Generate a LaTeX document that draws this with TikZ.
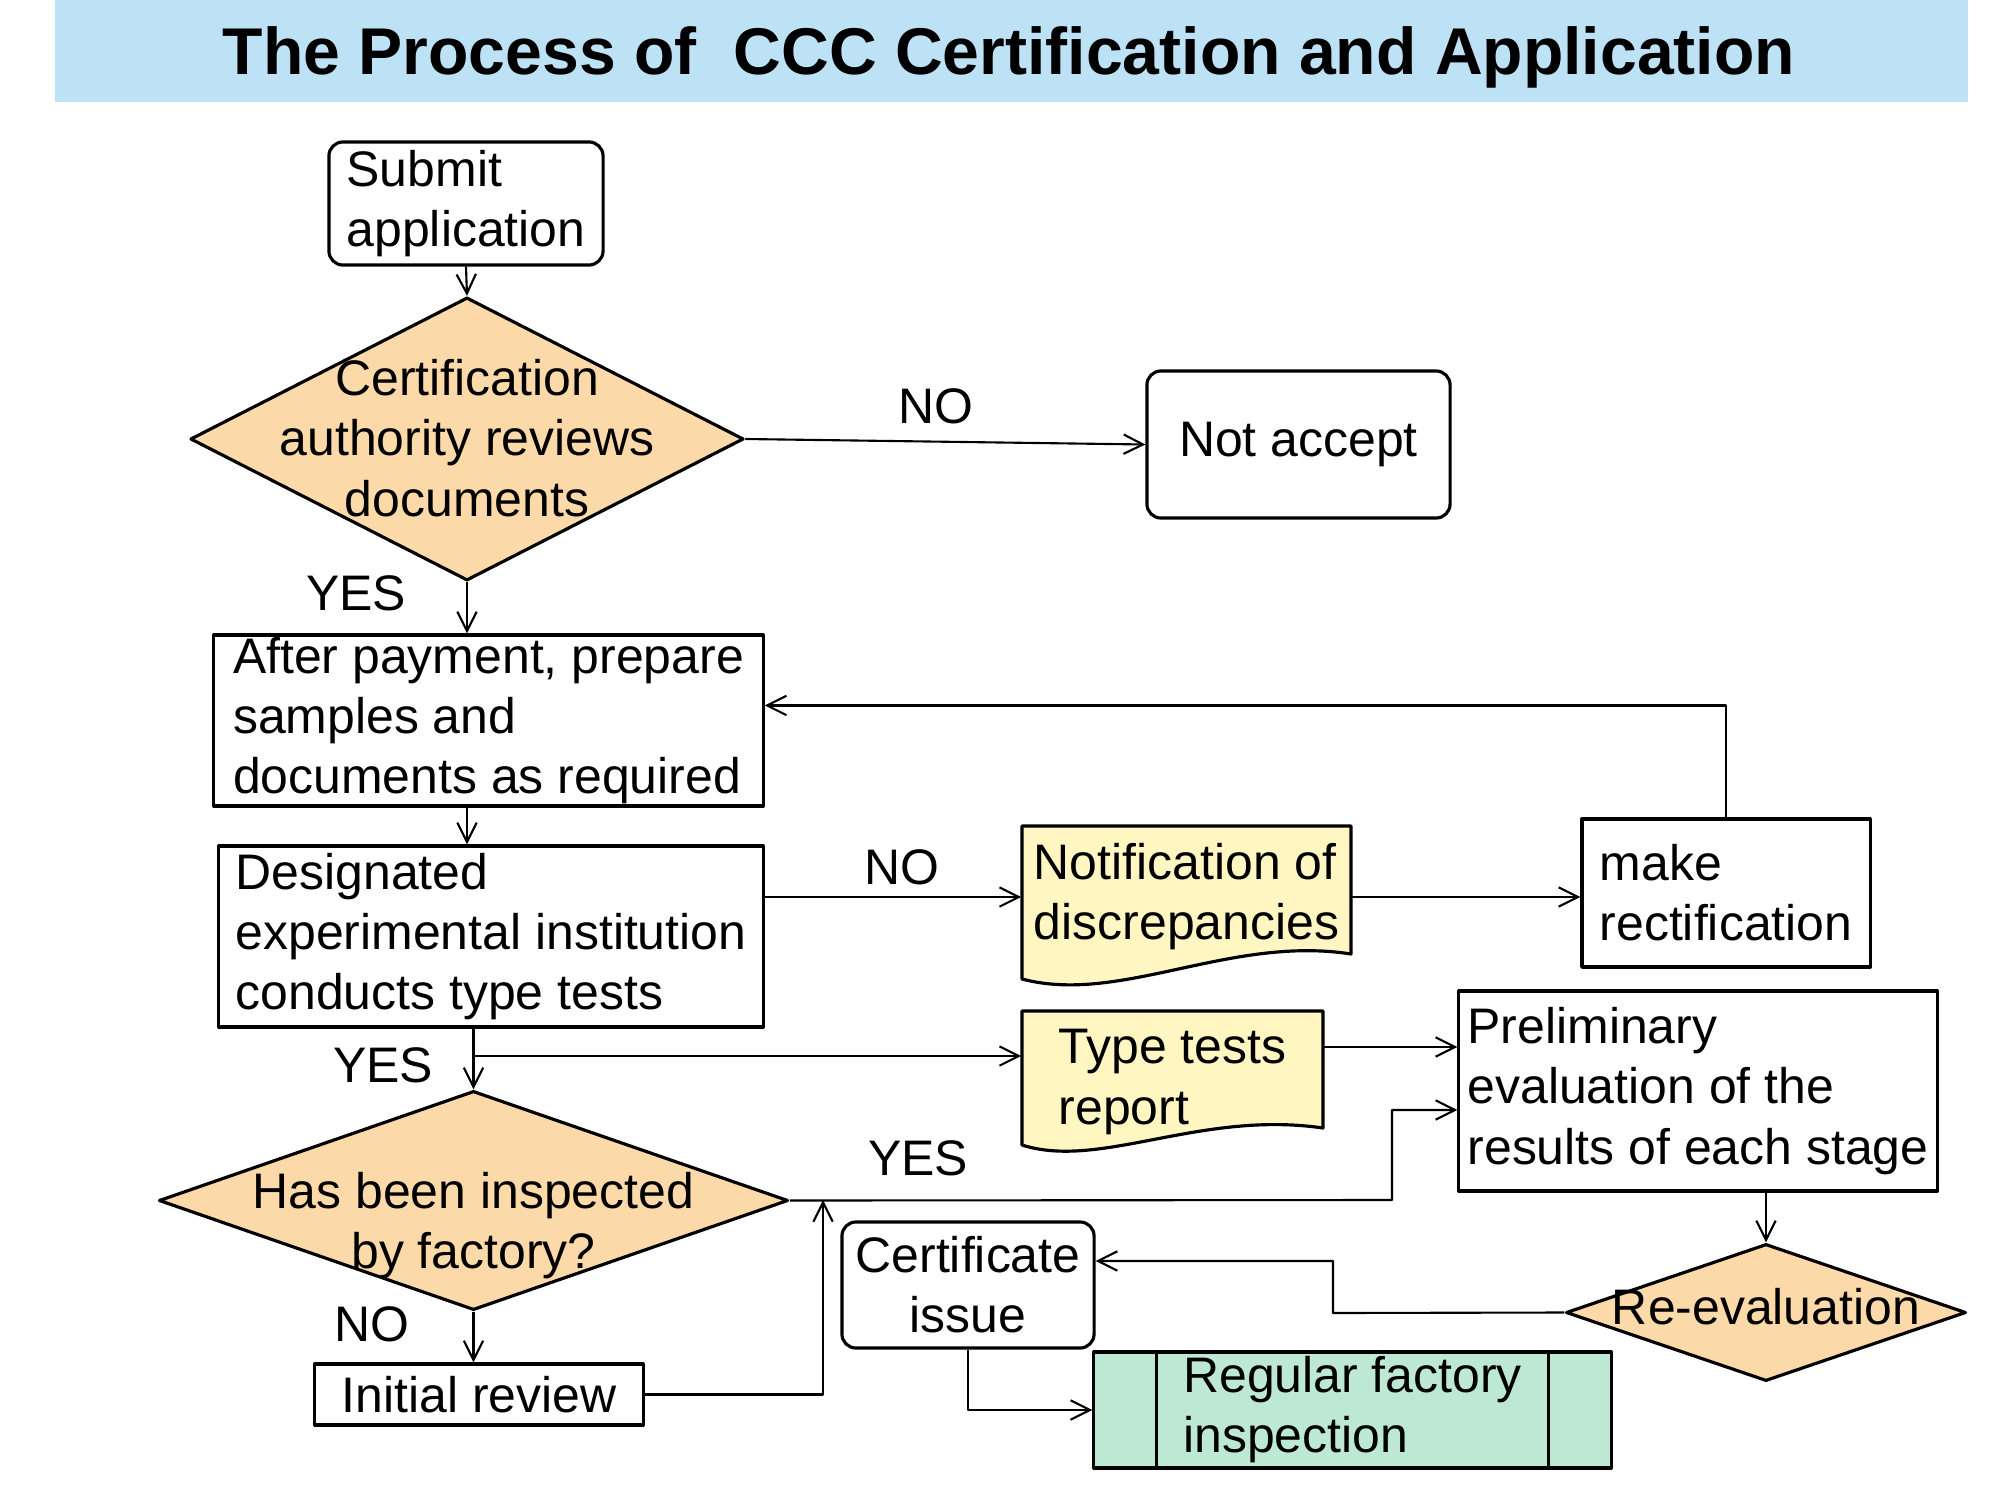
\documentclass[tikz,border=0pt]{standalone}
\usepackage{fontspec}
\setmainfont{Liberation Sans}
\usetikzlibrary{shapes.geometric,arrows.meta}
\definecolor{bandblue}{RGB}{189,226,245}
\definecolor{decitan}{RGB}{252,217,168}
\definecolor{docyellow}{RGB}{255,246,194}
\definecolor{procmint}{RGB}{189,233,212}
\newcommand{\dtxt}[2][-5pt]{\makebox[0pt]{\smash{\raisebox{#1}{\begin{tabular}{@{}c@{}}#2\end{tabular}}}}}

\begin{document}
\begin{tikzpicture}[x=0.01cm,y=-0.01cm,line join=round,>={Straight Barb[length=5.5pt,width=5.5pt]},
  every node/.style={font=\fontsize{14.2}{17.1}\selectfont,inner sep=0pt},
  box/.style={draw,line width=0.9pt,rectangle,align=left},
  rbox/.style={box,rounded corners=4pt},
  decide/.style={draw,line width=0.9pt,diamond,fill=decitan},
  doc/.style={rectangle,align=left},
  link/.style={line width=0.6pt,->}]
  \useasboundingbox (0,0) rectangle (2000,1500);
  % title
  \fill[bandblue] (55,0) rectangle (1968,102);
  \node[font=\fontsize{18.8}{22}\selectfont\bfseries] (title) at (1009,57) {The Process of\ \ CCC Certification and Application};
  % document shapes
  \filldraw[fill=docyellow,line width=0.9pt] (1022,826) -- (1351,826) -- (1351,954)
    .. controls (1230,935) and (1120,1005) .. (1022,979) -- cycle;
  \filldraw[fill=docyellow,line width=0.9pt] (1022,1011) -- (1323,1011) -- (1323,1128)
    .. controls (1200,1110) and (1100,1170) .. (1022,1145) -- cycle;
  % steps
  \node[rbox,minimum width=2.74cm,minimum height=1.23cm] (sub) at (466,203.5) {Submit\\application};
  \node[decide,minimum width=5.53cm,minimum height=2.83cm] (d1) at (467,439) {\dtxt{Certification\\authority reviews\\documents}};
  \node[rbox,minimum width=3.03cm,minimum height=1.47cm] (na) at (1298.5,444.5) {Not accept};
  \node[box,minimum width=5.49cm,minimum height=1.71cm] (pay) at (488.5,720.5) {After payment, prepare\\samples and\\documents as required};
  \node[box,minimum width=5.44cm,minimum height=1.81cm] (des) at (491,936.5) {Designated\\experimental institution\\conducts type tests};
  \node[doc,minimum width=3.29cm,minimum height=1.42cm] (ntf) at (1186.5,897) {Notification of\\discrepancies};
  \node[box,minimum width=2.88cm,minimum height=1.48cm] (mk) at (1726,893) {make\\rectification};
  \node[doc,minimum width=3.01cm,minimum height=1.42cm] (tt) at (1172.5,1082) {Type tests\\report};
  \node[box,minimum width=4.78cm,minimum height=2.00cm] (pre) at (1698,1091) {Preliminary\\evaluation of the\\results of each stage};
  \node[decide,minimum width=6.29cm,minimum height=2.19cm] (d2) at (473.5,1200.5) {\dtxt[-11pt]{Has been inspected\\by factory?}};
  \node[box,minimum width=3.28cm,minimum height=0.61cm] (ini) at (479,1394.5) {Initial review};
  \node[rbox,align=center,minimum width=2.52cm,minimum height=1.26cm] (cert) at (968,1285) {Certificate\\issue};
  \node[decide,minimum width=4.00cm,minimum height=1.37cm] (re) at (1766,1312.5) {\dtxt[-3.5pt]{Re-evaluation}};
  \node[box,fill=procmint,minimum width=5.17cm,minimum height=1.16cm] (reg) at (1352.5,1410) {Regular factory\\inspection};
  \draw[line width=0.9pt] ([xshift=0.64cm]reg.north west) -- ([xshift=0.64cm]reg.south west);
  \draw[line width=0.9pt] ([xshift=-0.64cm]reg.north east) -- ([xshift=-0.64cm]reg.south east);
  % labels
  \node (no1) at (936,406) {NO};
  \node (yes1) at (356,593) {YES};
  \node (no2) at (902,867) {NO};
  \node (yes2) at (383,1065) {YES};
  \node (yes3) at (918,1158) {YES};
  \node (no3) at (372,1324) {NO};
  % connectors
  \coordinate (brk) at (474,1056);
  \coordinate (jn) at (1392,1200);
  \coordinate (mrg) at (823,1200);
  \coordinate (rv) at (1333,1313);
  \draw[link] (sub.south) -- (d1.north);
  \draw[link] (d1.east) -- (na.west);
  \draw[link] (d1.south) -- (d1.south |- pay.north);
  \draw[link] (d1.south |- pay.south) -- (d1.south |- des.north);
  \draw[link] (des.east |- ntf.west) -- (ntf.west);
  \draw[link] (ntf.east) -- (ntf.east -| mk.west);
  \draw[link] (mk.north) |- ([yshift=1.5mm]pay.east);
  \draw[link] (d2.north |- des.south) -- (d2.north);
  \draw[link] (brk) -- (brk -| tt.west);
  \draw[link] ([yshift=3.5mm]tt.east) -- ([yshift=3.5mm]tt.east -| pre.west);
  \draw[link] (d2.east) -- (jn) |- ([yshift=-1.9mm]pre.west);
  \draw[link] (d2.south) -- (d2.south |- ini.north);
  \draw[link] (ini.east) -| (mrg);
  \draw[link] (pre.south -| re.north) -- (re.north);
  \draw[link] (re.west) -- (rv) |- ([yshift=2.4mm]cert.east);
  \draw[link] (cert.south) |- (reg.west);
\end{tikzpicture}
\end{document}
